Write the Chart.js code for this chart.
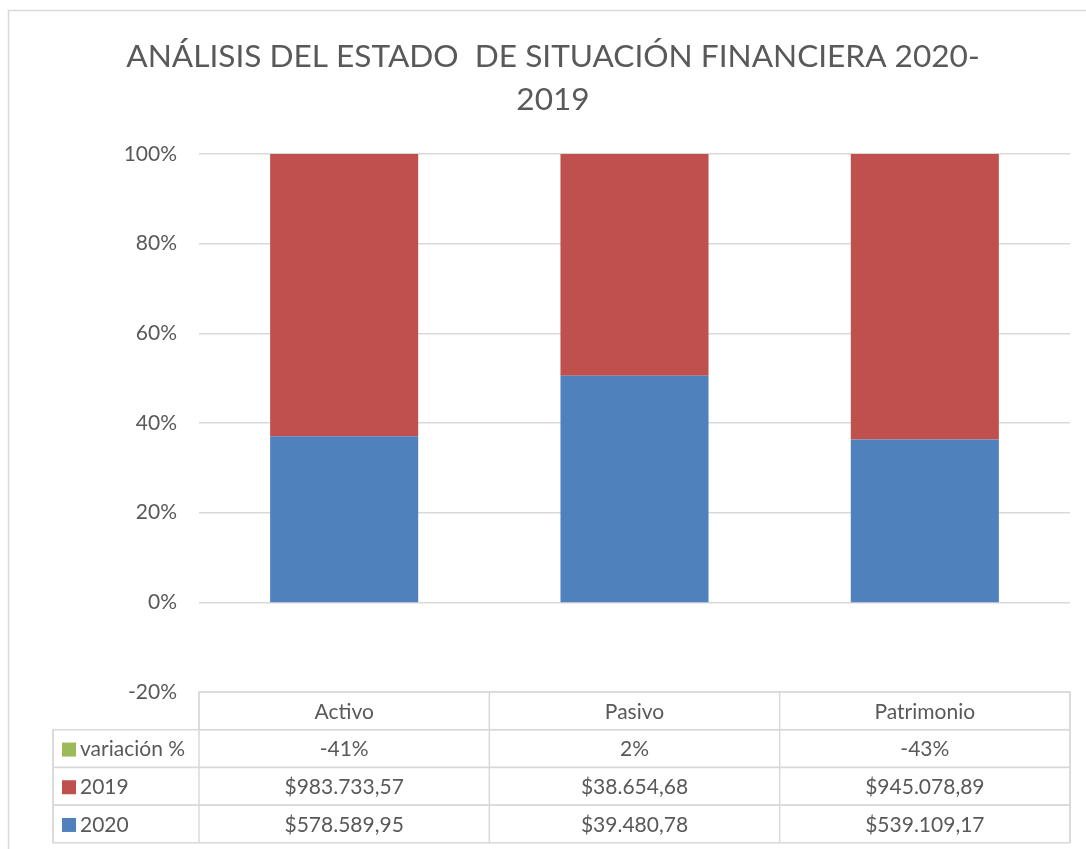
<!DOCTYPE html>
<html>
<head>
<meta charset="utf-8">
<script src="https://cdn.jsdelivr.net/npm/chart.js@4.4.1/dist/chart.umd.min.js"></script>
<style>
  html, body { margin: 0; padding: 0; background: #fff; }
  #wrap { width: 1086px; height: 849px; }
</style>
</head>
<body>
<div id="wrap"><canvas id="chart" width="1086" height="849"></canvas></div>
<script>
const categories = ["Activo", "Pasivo", "Patrimonio"];
const values2020 = [578589.95, 39480.78, 539109.17];
const values2019 = [983733.57, 38654.68, 945078.89];
const variacion = [-0.41, 0.02, -0.43];
const label2020 = ["$578.589,95", "$39.480,78", "$539.109,17"];
const label2019 = ["$983.733,57", "$38.654,68", "$945.078,89"];
const labelVar = ["-41%", "2%", "-43%"];

const blue = "#4F81BD";
const red = "#C0504D";
const green = "#9BBB59";
const textColor = "#595959";
const lineColor = "#D9D9D9";
const fontFamily = "Lato, 'Open Sans', sans-serif";

// 100% stacked: each value as share of the column total
const totals = categories.map((c, i) =>
    Math.abs(values2020[i]) + Math.abs(values2019[i]) + Math.abs(variacion[i]));
const share = arr => arr.map((v, i) => v / totals[i]);

const frame = {
    id: "frame",
    beforeDraw(chart) {
        const ctx = chart.ctx;
        ctx.save();
        ctx.strokeStyle = lineColor;
        ctx.lineWidth = 1.5;
        ctx.strokeRect(8.5, 10.5, 1200, 900);
        ctx.restore();
    }
};

const dataTable = {
    id: "dataTable",
    afterDraw(chart) {
        const ctx = chart.ctx;
        const area = chart.chartArea;
        const colW = (area.right - area.left) / categories.length;
        const top = area.bottom;
        const rowH = 37.7;
        const keyLeft = 53;
        const rows = [
            { name: "variación %", color: green, cells: labelVar },
            { name: "2019", color: red, cells: label2019 },
            { name: "2020", color: blue, cells: label2020 }
        ];
        ctx.save();
        ctx.strokeStyle = lineColor;
        ctx.lineWidth = 1.5;
        // header row
        ctx.strokeRect(area.left, top, area.right - area.left, rowH);
        // body rows
        for (let r = 0; r < rows.length; r++) {
            const y = top + rowH * (r + 1);
            ctx.strokeRect(keyLeft, y, area.right - keyLeft, rowH);
        }
        for (let c = 0; c <= categories.length; c++) {
            const x = area.left + colW * c;
            ctx.beginPath();
            ctx.moveTo(x, top);
            ctx.lineTo(x, top + rowH * 4);
            ctx.stroke();
        }
        ctx.beginPath();
        ctx.moveTo(keyLeft, top + rowH);
        ctx.lineTo(keyLeft, top + rowH * 4);
        ctx.stroke();

        ctx.fillStyle = textColor;
        ctx.font = "21px " + fontFamily;
        ctx.textBaseline = "middle";
        ctx.textAlign = "center";
        categories.forEach((c, i) => {
            ctx.fillText(c, area.left + colW * (i + 0.5), top + rowH / 2 + 1);
        });
        rows.forEach((row, r) => {
            const yMid = top + rowH * (r + 1.5) + 1;
            row.cells.forEach((t, i) => {
                ctx.textAlign = "center";
                ctx.fillStyle = textColor;
                ctx.fillText(t, area.left + colW * (i + 0.5), yMid);
            });
            ctx.fillStyle = row.color;
            ctx.fillRect(62, yMid - 7, 14, 14);
            ctx.fillStyle = textColor;
            ctx.textAlign = "left";
            ctx.fillText(row.name, 80, yMid);
        });
        ctx.restore();
    }
};

new Chart(document.getElementById("chart"), {
    type: "bar",
    data: {
        labels: categories,
        datasets: [
            { label: "2020", data: share(values2020), backgroundColor: blue },
            { label: "2019", data: share(values2019), backgroundColor: red },
            { label: "variación %", data: share(variacion), backgroundColor: green }
        ]
    },
    options: {
        responsive: false,
        animation: false,
        datasets: {
            bar: { categoryPercentage: 0.51, barPercentage: 1 }
        },
        layout: {
            padding: { left: 36, right: 16, top: 0, bottom: 149 }
        },
        scales: {
            x: {
                stacked: true,
                ticks: { display: false },
                grid: { display: false },
                border: { display: false }
            },
            y: {
                stacked: true,
                min: -0.2,
                max: 1,
                afterFit: scale => { scale.width = 163; },
                ticks: {
                    stepSize: 0.2,
                    padding: 22,
                    color: textColor,
                    font: { family: fontFamily, size: 21 },
                    callback: v => Math.round(v * 100) + "%"
                },
                grid: { color: lineColor, lineWidth: 1.5, drawTicks: false },
                border: { display: false }
            }
        },
        plugins: {
            legend: { display: false },
            tooltip: { enabled: false },
            title: {
                display: true,
                text: ["ANÁLISIS DEL ESTADO  DE SITUACIÓN FINANCIERA 2020-", "2019"],
                color: textColor,
                font: { family: fontFamily, size: 31.6, weight: "normal", lineHeight: 1.36 },
                padding: { top: 35, bottom: 33 }
            }
        }
    },
    plugins: [frame, dataTable]
});
</script>
</body>
</html>
